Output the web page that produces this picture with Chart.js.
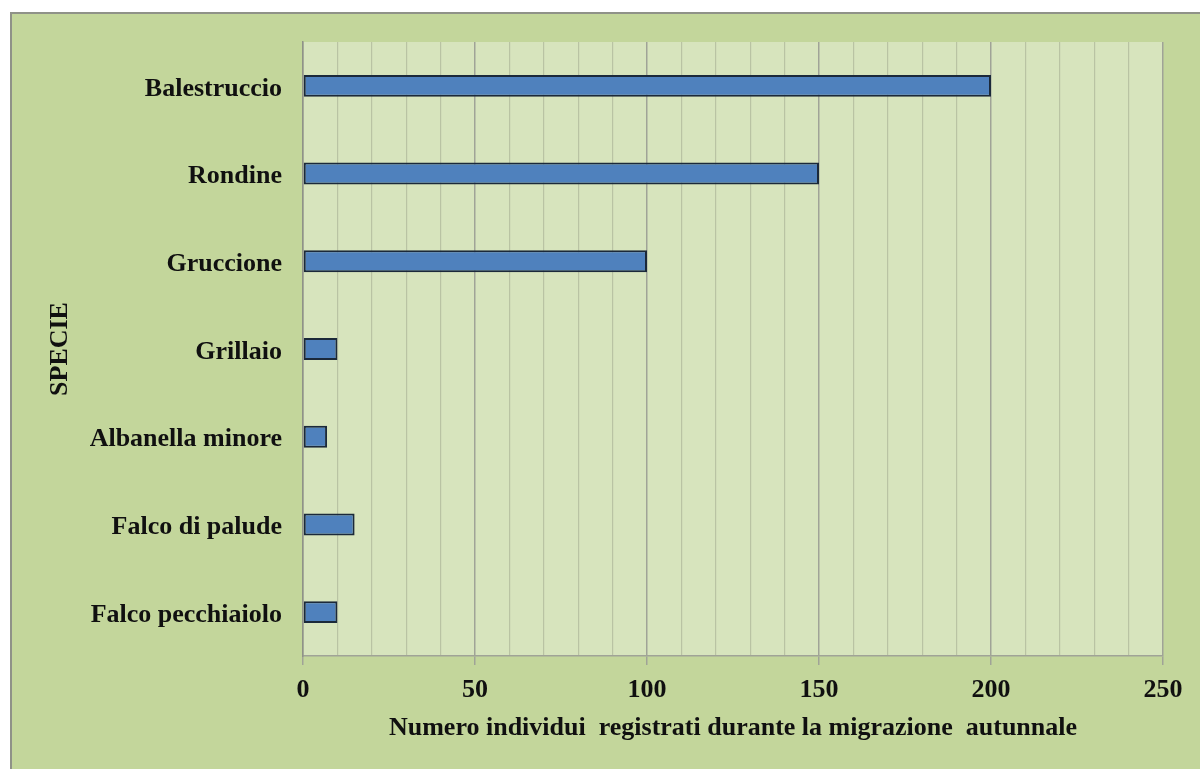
<!DOCTYPE html>
<html>
<head>
<meta charset="utf-8">
<title>Migrazione autunnale</title>
<script src="https://cdn.jsdelivr.net/npm/chart.js@4/dist/chart.umd.min.js"></script>
<style>
  html, body { margin: 0; padding: 0; background: #ffffff; }
  #wrap { width: 1200px; height: 769px; position: relative; }
</style>
</head>
<body>
<div id="wrap"><canvas id="chart" width="1200" height="769"></canvas></div>
<script>
// Species observed (top to bottom)
const species = [
  'Balestruccio',
  'Rondine',
  'Gruccione',
  'Grillaio',
  'Albanella minore',
  'Falco di palude',
  'Falco pecchiaiolo'
];

// Individuals counted per species
const counts = [200, 150, 100, 10, 7, 15, 10];

// Value axis: labelled ticks and the minor step between grid lines
const labelledTicks = [0, 50, 100, 150, 200, 250];
const minorStep = 10;

const xTitle = 'Numero individui  registrati durante la migrazione  autunnale';
const yTitle = 'SPECIE';

const OUTER_BG = '#c3d69b';
const PLOT_BG = '#d7e4bd';
const FRAME = '#8f9288';
const MAJOR_GRID = '#a0a397';
const MINOR_GRID = '#b9c3a3';

const backgroundPlugin = {
  id: 'panelBackground',
  beforeDraw(chart) {
    const { ctx, chartArea } = chart;
    ctx.save();
    ctx.fillStyle = '#ffffff';
    ctx.fillRect(0, 0, chart.width, chart.height);
    ctx.fillStyle = OUTER_BG;
    ctx.fillRect(10, 12, chart.width - 10, chart.height - 12);
    ctx.strokeStyle = FRAME;
    ctx.lineWidth = 2;
    ctx.beginPath();
    ctx.moveTo(11, chart.height);
    ctx.lineTo(11, 13);
    ctx.lineTo(chart.width, 13);
    ctx.stroke();
    ctx.fillStyle = PLOT_BG;
    ctx.fillRect(chartArea.left, chartArea.top,
                 chartArea.right - chartArea.left, chartArea.bottom - chartArea.top);
    ctx.restore();
  }
};

Chart.defaults.font.family = '"Liberation Serif", "Times New Roman", serif';
Chart.defaults.font.weight = 'bold';
Chart.defaults.font.size = 26;
Chart.defaults.color = '#101010';

const isMajor = (v) => labelledTicks.includes(v);

new Chart(document.getElementById('chart'), {
  type: 'bar',
  data: {
    labels: species,
    datasets: [{
      data: counts,
      backgroundColor: '#4f81bd',
      borderColor: '#1b293a',
      borderWidth: 2,
      borderSkipped: false,
      categoryPercentage: 1,
      barPercentage: 0.25
    }]
  },
  options: {
    indexAxis: 'y',
    responsive: false,
    animation: false,
    layout: { padding: { left: 0, top: 42, right: 37, bottom: 0 } },
    plugins: {
      legend: { display: false },
      tooltip: { enabled: false }
    },
    scales: {
      x: {
        type: 'linear',
        min: labelledTicks[0],
        max: labelledTicks[labelledTicks.length - 1],
        afterFit(scale) { scale.height = 113; },
        ticks: {
          stepSize: minorStep,
          autoSkip: false,
          maxRotation: 0,
          padding: 10,
          callback: (v) => (isMajor(v) ? String(v) : '')
        },
        grid: {
          color: (c) => (isMajor(c.tick.value) ? MAJOR_GRID : MINOR_GRID),
          lineWidth: (c) => (isMajor(c.tick.value) ? 1.5 : 1.2),
          tickColor: (c) => (isMajor(c.tick.value) ? MAJOR_GRID : 'rgba(0,0,0,0)'),
          tickLength: 9,
          drawTicks: true
        },
        border: { color: '#a0a397', width: 1.5 },
        title: {
          display: true,
          text: xTitle,
          font: { size: 26, lineHeight: 1 },
          padding: { top: 0, bottom: 28 }
        }
      },
      y: {
        afterFit(scale) { scale.width = 303; },
        ticks: { padding: 21, labelOffset: 3 },
        grid: { display: false, drawTicks: false },
        border: { display: true, color: '#8f9288', width: 1.5 },
        title: {
          display: true,
          text: yTitle,
          font: { size: 26, lineHeight: 1 },
          padding: { top: 47, bottom: 0 }
        }
      }
    }
  },
  plugins: [backgroundPlugin]
});
</script>
</body>
</html>
